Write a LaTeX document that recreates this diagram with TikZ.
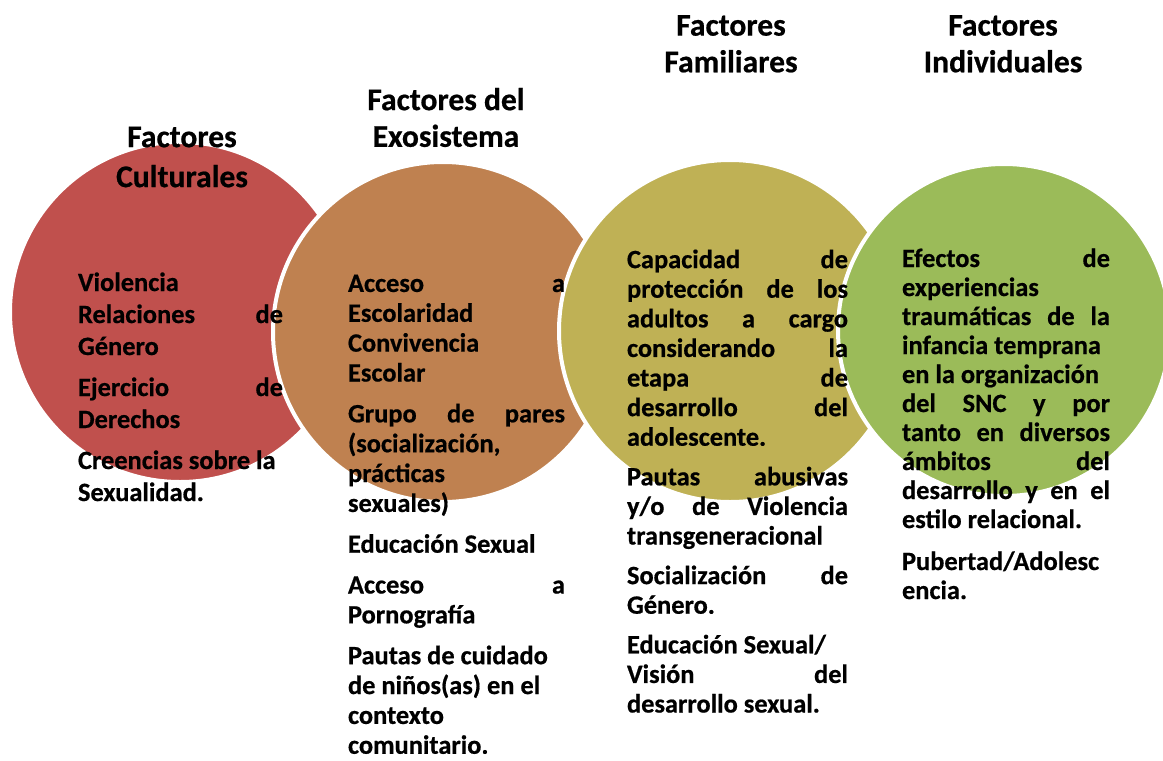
\documentclass[tikz,border=0pt]{standalone}
\usepackage{fontspec}
\setmainfont{Carlito}[BoldFeatures={FakeBold=0.6}]
\definecolor{cultred}{HTML}{C0504D}
\definecolor{exoorange}{HTML}{BF8150}
\definecolor{famolive}{HTML}{BFB155}
\definecolor{indgreen}{HTML}{9BBB59}
\hyphenpenalty=10000
\exhyphenpenalty=10000
\begin{document}
\begin{tikzpicture}[x=0.75pt,y=-0.75pt,inner sep=0pt,outer sep=0pt,
factor/.style={draw=white,line width=3pt,circle,minimum size=255pt},
titletext/.style={align=center,font=\fontsize{23.7}{27.5}\selectfont\bfseries},
bodytext/.style={anchor=north west,align=justify,font=\fontsize{19.8}{24}\selectfont\bfseries}]
\path[use as bounding box] (0,0) rectangle (1163,760);

% circulos
\draw (180,312) node[factor,fill=cultred] (cult) {};
\draw (443,332) node[factor,fill=exoorange] (exo) {};
\draw (730,331) node[factor,fill=famolive,minimum size=256.5pt] (fam) {};
\draw (1004,330) node[factor,fill=indgreen,minimum size=249pt] (indiv) {};

% titulos
\draw (182,157) node[titletext,font=\fontsize{23.7}{30}\selectfont\bfseries] (cultT) {Factores\\Culturales};
\draw (446,117.5) node[titletext] (exoT) {Factores del\\Exosistema};
\draw (731,43.8) node[titletext] (famT) {Factores\\Familiares};
\draw (1003,43.8) node[titletext] (indivT) {Factores\\Individuales};

% textos
\draw (78,268.6) node[bodytext,text width=153.75pt] (cultB) {\setlength\parskip{6.75pt}\strut
Violencia\\ Relaciones de\linebreak Género\par
Ejercicio de\linebreak Derechos\par
Creencias sobre la\\ Sexualidad.};
\draw (348,271) node[bodytext,text width=162.75pt,font=\fontsize{19.8}{22.4}\selectfont\bfseries] (exoB) {\setlength\parskip{8.2pt}\strut
Acceso a\linebreak Escolaridad\\ Convivencia\\ Escolar\par
Grupo de pares\linebreak (socialización,\\ prácticas\\ sexuales)\par
Educación Sexual\par
Acceso a\linebreak Pornografía\par
Pautas de cuidado\\ de niños(as) en el\\ contexto\\ comunitario.};
\draw (627,247.4) node[bodytext,text width=165.75pt,font=\fontsize{19.8}{22.2}\selectfont\bfseries] (famB) {\setlength\parskip{7.5pt}\strut
Capacidad de\linebreak protección de los\linebreak adultos a cargo\linebreak considerando la\linebreak etapa de\linebreak desarrollo del\linebreak adolescente.\par
Pautas abusivas\linebreak y/o de Violencia\linebreak transgeneracional\par
Socialización de\linebreak Género.\par
Educación Sexual/\\ Visión del\linebreak desarrollo sexual.};
\draw (902,246.7) node[bodytext,text width=156pt,font=\fontsize{19.8}{21.75}\selectfont\bfseries] (indivB) {\setlength\parskip{9.75pt}\strut
Efectos de\linebreak experiencias\\ traumáticas de la\linebreak infancia temprana\\ en la organización\\ del SNC y por\linebreak tanto en diversos\linebreak ámbitos del\linebreak desarrollo y en el\linebreak estilo relacional.\par
Pubertad/Adolesc\\ encia.};
\end{tikzpicture}
\end{document}
